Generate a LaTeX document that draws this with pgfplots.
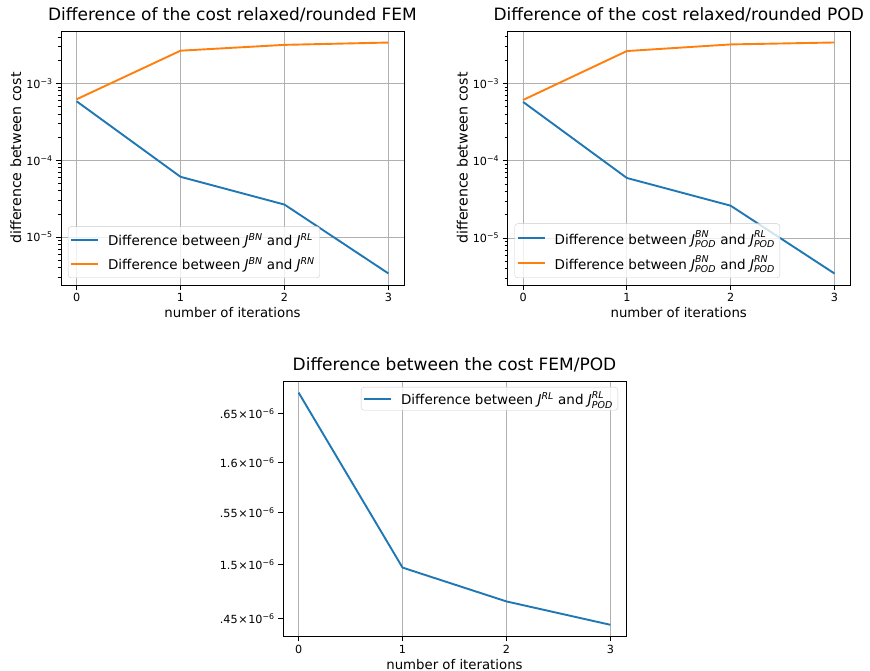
\documentclass[border=0pt]{standalone}
\usepackage{fontspec}
\setmainfont{DejaVu Sans}
\usepackage{amsmath}
\usepackage{pgfplots}
\pgfplotsset{compat=1.18}
\definecolor{tabblue}{HTML}{1F77B4}
\definecolor{taborange}{HTML}{FF7F0E}
\definecolor{gridgray}{HTML}{B0B0B0}
\newcommand{\J}{\textit{J}}
\newcommand{\lf}{\fontsize{13.5}{16}\selectfont}
\newcommand{\tm}{\kern0.6pt×\kern0.6pt}
\pgfplotsset{
  mpl/.style={
    scale only axis,
    width=343pt, height=254pt,
    xmin=-0.15, xmax=3.15,
    xtick={0,1,2,3}, xticklabels={0,1,2,3},
    tick pos=left,
    tick align=outside,
    major tick length=4.9pt,
    minor tick length=2.8pt,
    every tick/.style={black, line width=0.8pt},
    axis line style={line width=0.8pt},
    major grid style={gridgray, line width=1pt},
    tick label style={font=\fontsize{11.2}{13}\selectfont},
    title style={font=\fontsize{17}{20}\selectfont, at={([yshift=4pt]axis description cs:0.5,1)}, anchor=base},
    xlabel style={font=\fontsize{13.3}{16}\selectfont, at={([yshift=-33pt]axis description cs:0.5,0)}, anchor=base},
    ylabel style={font=\fontsize{14.2}{17}\selectfont, at={([xshift=-40pt]axis description cs:0,0.5)}, anchor=base},
    every axis plot/.append style={line width=1.9pt},
    legend cell align=left,
    legend image code/.code={\draw[line width=1.9pt,##1] (0pt,0pt) -- (27pt,0pt); \path (33pt,0pt);},
    legend style={font=\lf, draw=black!20, rounded corners=3pt,
      fill=white, fill opacity=0.8, text opacity=1, inner xsep=2pt, inner ysep=4pt,
      row sep=4pt, nodes={font=\lf, inner sep=3pt}},
  },
}
\begin{document}
\begin{tikzpicture}
\path[use as bounding box] (0,0) rectangle (870pt,671pt);
% top left
\begin{axis}[mpl, at={(61pt,386pt)}, anchor=south west,
  ymode=log, ymin=2.377e-6, ymax=4.82e-3,
  ytick={1e-5,1e-4,1e-3},
  yticklabels={10\textsuperscript{−5},10\textsuperscript{−4},10\textsuperscript{−3}},
  minor ytick={3e-6,4e-6,5e-6,6e-6,7e-6,8e-6,9e-6,2e-5,3e-5,4e-5,5e-5,6e-5,7e-5,8e-5,9e-5,2e-4,3e-4,4e-4,5e-4,6e-4,7e-4,8e-4,9e-4,2e-3,3e-3,4e-3},
  xmajorgrids, ymajorgrids,
  title={Difference of the cost relaxed/rounded FEM},
  xlabel={number of iterations}, ylabel={difference between cost},
  legend style={at={([xshift=7pt,yshift=7pt]axis description cs:0,0)}, anchor=south west}]
\addplot[tabblue] coordinates {(0,5.86e-4) (1,6.09e-5) (2,2.65e-5) (3,3.36e-6)};
\addlegendentry{Difference between \J\textsuperscript{\textit{BN}} and \J\textsuperscript{\textit{RL}}}
\addplot[taborange] coordinates {(0,6.22e-4) (1,2.67e-3) (2,3.18e-3) (3,3.41e-3)};
\addlegendentry{Difference between \J\textsuperscript{\textit{BN}} and \J\textsuperscript{\textit{RN}}}
\end{axis}
% top right
\begin{axis}[mpl, at={(507.5pt,386pt)}, anchor=south west, width=342.5pt,
  ymode=log, ymin=2.47e-6, ymax=4.76e-3,
  ytick={1e-5,1e-4,1e-3},
  yticklabels={10\textsuperscript{−5},10\textsuperscript{−4},10\textsuperscript{−3}},
  minor ytick={3e-6,4e-6,5e-6,6e-6,7e-6,8e-6,9e-6,2e-5,3e-5,4e-5,5e-5,6e-5,7e-5,8e-5,9e-5,2e-4,3e-4,4e-4,5e-4,6e-4,7e-4,8e-4,9e-4,2e-3,3e-3,4e-3},
  xmajorgrids, ymajorgrids,
  title={Difference of the cost relaxed/rounded POD},
  xlabel={number of iterations}, ylabel={difference between cost},
  legend style={at={([xshift=7pt,yshift=7pt]axis description cs:0,0)}, anchor=south west}]
\addplot[tabblue] coordinates {(0,5.76e-4) (1,5.98e-5) (2,2.62e-5) (3,3.48e-6)};
\addlegendentry{Difference between $\J^{\textit{BN}}_{\textit{POD}}$ and $\J^{\textit{RL}}_{\textit{POD}}$}
\addplot[taborange] coordinates {(0,6.10e-4) (1,2.62e-3) (2,3.19e-3) (3,3.38e-3)};
\addlegendentry{Difference between $\J^{\textit{BN}}_{\textit{POD}}$ and $\J^{\textit{RN}}_{\textit{POD}}$}
\end{axis}
% bottom (values in units of 1e-6)
\begin{axis}[mpl, at={(283pt,34.5pt)}, anchor=south west, height=255.5pt,
  ymode=log, ymin=1.4336, ymax=1.6843,
  ytick={1.45,1.5,1.55,1.6,1.65},
  yticklabels={.45\tm10\textsuperscript{−6},1.5\tm10\textsuperscript{−6},.55\tm10\textsuperscript{−6},1.6\tm10\textsuperscript{−6},.65\tm10\textsuperscript{−6}},
  xmajorgrids,
  title={Difference between the cost FEM/POD},
  xlabel={number of iterations},
  legend style={at={([xshift=-8pt,yshift=-6pt]axis description cs:1,1)}, anchor=north east, inner ysep=1pt}]
\addplot[tabblue] coordinates {(0,1.672) (1,1.4972) (2,1.4656) (3,1.4442)};
\addlegendentry{Difference between \J\textsuperscript{\textit{RL}} and $\J^{\textit{RL}}_{\textit{POD}}$}
\end{axis}
\end{tikzpicture}
\end{document}
